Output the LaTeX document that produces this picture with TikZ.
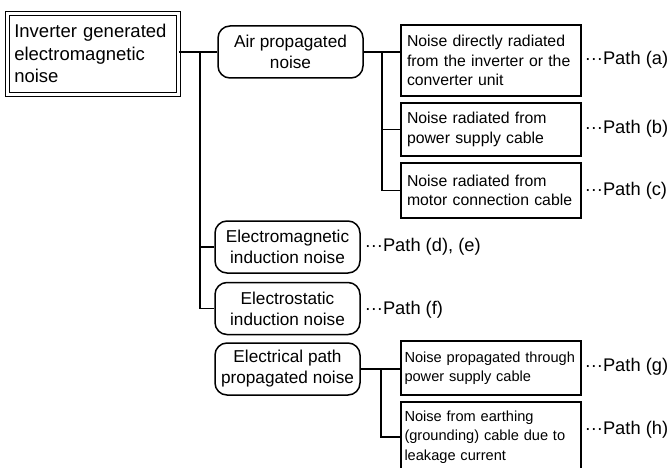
\documentclass[tikz,border=0pt]{standalone}
\usepackage{fontspec}
\setmainfont{Liberation Sans}
\begin{document}
\begin{tikzpicture}[x=1pt,y=-1pt,line width=1.5pt,
  rootbox/.style={draw,double,line width=1.1pt,double distance=2.5pt,minimum width=171pt,minimum height=81pt,inner sep=0pt,text width=157pt,align=left,font=\fontsize{18.5}{22.5}\selectfont},
  kindbox/.style={draw,rounded corners=12pt,minimum width=145pt,minimum height=52pt,inner sep=0pt,align=center,font=\fontsize{17.2}{21}\selectfont},
  pathbox/.style={draw,minimum width=180pt,inner xsep=6pt,inner ysep=0pt,text width=168pt,align=left,font=\fontsize{15.8}{19.5}\selectfont},
  smallpath/.style={pathbox,inner xsep=3.5pt,text width=173pt,font=\fontsize{14.6}{19.5}\selectfont},
  pathlabel/.style={anchor=west,inner sep=0pt,font=\fontsize{18.3}{22}\selectfont}]

\clip (0,0) rectangle (669,468);

%------------------------------------------------
% Source and kinds of noise
%------------------------------------------------
\node[rootbox] (root) at (92.8,53.8) {Inverter generated\\electromagnetic\\noise};

\node[kindbox] (air) at (290.5,52) {Air propagated\\noise};
\node[kindbox] (em) at (287.5,247) {Electromagnetic\\induction noise};
\node[kindbox] (es) at (287.5,308.5) {Electrostatic\\induction noise};
\node[kindbox] (ep) at (287.5,369) {Electrical path\\propagated noise};

% Trunk
\coordinate (trunk) at (200,52);
\draw (root.east |- air.west) -- (air.west);
\draw (trunk) |- (es.west);
\draw (trunk |- em.west) -- (em.west);

%------------------------------------------------
% Air propagated paths
%------------------------------------------------
\node[pathbox,minimum height=71pt] (na) at (491,60.5) {Noise directly radiated\\from the inverter or the\\converter unit};
\node[pathbox,minimum height=53pt] (nb) at (491,129.5) {Noise radiated from\\power supply cable};
\node[pathbox,minimum height=55pt] (nc) at (491,190.5) {Noise radiated from\\motor connection cable};

\coordinate (airsplit) at (382,52);
\draw (air.east) -- (air.east -| na.west);
\draw (airsplit) |- (nc.west);
\draw (airsplit |- nb.west) -- (nb.west);

%------------------------------------------------
% Electrical path propagated paths
%------------------------------------------------
\node[smallpath,minimum height=54pt] (ng) at (491,368) {Noise propagated through\\power supply cable};
\node[smallpath,minimum height=70pt] (nh) at (491,437) {Noise from earthing\\(grounding) cable due to\\leakage current};

\coordinate (epsplit) at (381,368);
\draw (ep.east) -- (ep.east -| ng.west);
\draw (epsplit) |- (nh.west);

%------------------------------------------------
% Path labels
%------------------------------------------------
\node[pathlabel] (pa) at (584,60) {···Path (a)};
\node[pathlabel] (pb) at (584,129) {···Path (b)};
\node[pathlabel] (pc) at (584,191) {···Path (c)};
\node[pathlabel] (pde) at (364,247) {···Path (d), (e)};
\node[pathlabel] (pf) at (364,310) {···Path (f)};
\node[pathlabel] (pg) at (584,367) {···Path (g)};
\node[pathlabel] (ph) at (584,430) {···Path (h)};

\end{tikzpicture}
\end{document}
